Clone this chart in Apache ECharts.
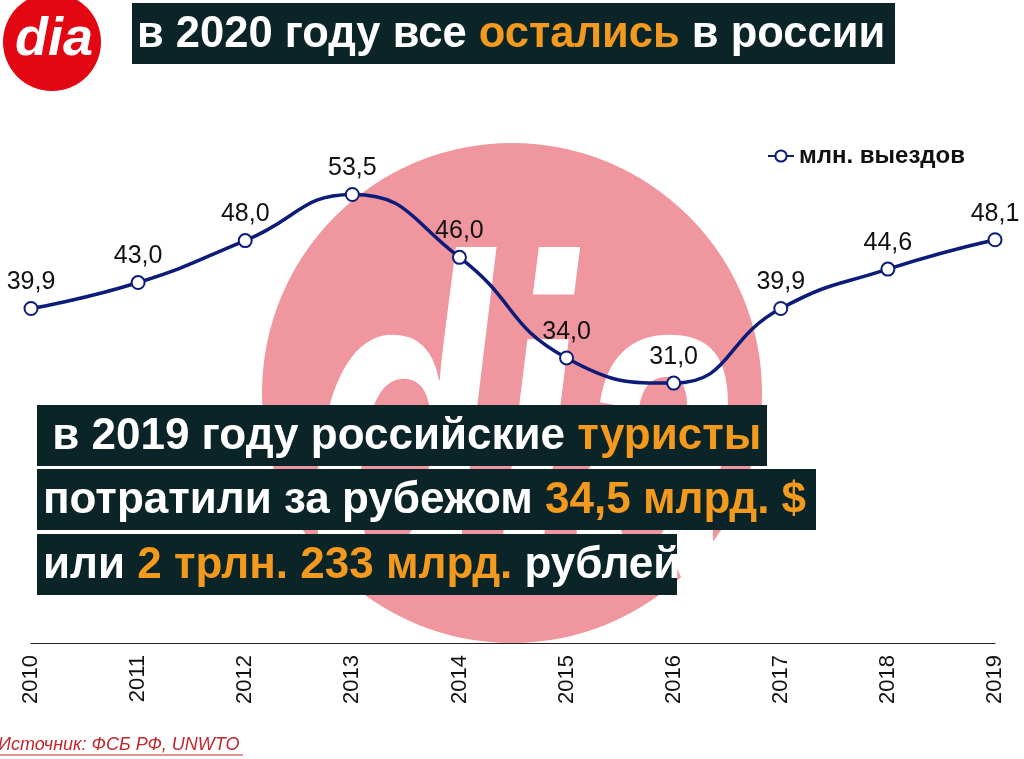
<!DOCTYPE html>
<html>
<head>
<meta charset="utf-8">
<script src="https://cdn.jsdelivr.net/npm/echarts@6/dist/echarts.min.js"></script>
<style>
  html, body { margin: 0; padding: 0; background: #fff; }
  #chart { width: 1024px; height: 759px; }
</style>
</head>
<body>
<div id="chart"></div>
<script>
// данные графика
const years = ["2010", "2011", "2012", "2013", "2014", "2015", "2016", "2017", "2018", "2019"];
const trips = [39.9, 43.0, 48.0, 53.5, 46.0, 34.0, 31.0, 39.9, 44.6, 48.1];
const seriesName = "млн. выездов";

const FONT = "'Liberation Sans', Arial, sans-serif";
const BOX = "#0b2427";
const ORANGE = "#f39a1e";
const NAVY = "#0c1c78";

const chart = echarts.init(document.getElementById("chart"));

// плашка с текстом (тёмный прямоугольник + rich text)
function textBox(x, y, w, h, parts, fontSize, tx) {
  const rich = {
    w: { fill: "#fff", fontSize: fontSize, fontWeight: "bold", fontFamily: FONT },
    o: { fill: ORANGE, fontSize: fontSize, fontWeight: "bold", fontFamily: FONT }
  };
  const text = parts.map((p) => `{${p[0]}|${p[1]}}`).join("");
  return [
    { type: "rect", z: 100, shape: { x: x, y: y, width: w, height: h }, style: { fill: BOX } },
    {
      type: "text", z: 101, x: tx, y: y + h / 2 + 1,
      style: {
        text: text, rich: rich, fontFamily: FONT, fontWeight: "bold",
        fontSize: fontSize, fill: "#fff", verticalAlign: "middle"
      }
    }
  ];
}

const graphics = [
  // водяной знак
  { type: "circle", z: 0, shape: { cx: 512, cy: 393, r: 250 }, style: { fill: "#f0969f" } },
  {
    type: "text", z: 1, x: 525, y: 458, scaleX: 0.64,
    style: {
      text: "dia", fontFamily: FONT, fontStyle: "italic", fontWeight: "bold",
      fontSize: 470, fill: "#fff", align: "center", verticalAlign: "middle"
    }
  },
  // логотип
  { type: "circle", z: 100, shape: { cx: 52, cy: 42, r: 49 }, style: { fill: "#e30613" } },
  {
    type: "text", z: 101, x: 54, y: 40,
    style: {
      text: "dia", fontFamily: FONT, fontStyle: "italic", fontWeight: "bold",
      fontSize: 54, fill: "#fff", align: "center", verticalAlign: "middle"
    }
  },
  ...textBox(132, 3, 763, 61, [["w", "в 2020 году все "], ["o", "остались"], ["w", " в россии"]], 43.5, 137),
  ...textBox(37, 405, 730, 61, [["w", " в 2019 году российские "], ["o", "туристы"]], 44, 40),
  ...textBox(37, 469, 779, 61, [["w", "потратили за рубежом "], ["o", "34,5 млрд. $"]], 44, 43),
  ...textBox(37, 534, 640, 61, [["w", "или "], ["o", "2 трлн. 233 млрд."], ["w", " рублей"]], 44, 43),
  // источник
  {
    type: "text", z: 101, x: -2, y: 745,
    style: {
      text: "Источник: ФСБ РФ, UNWTO", fontFamily: FONT, fontStyle: "italic",
      fontSize: 18, fill: "#c1272d", verticalAlign: "middle"
    }
  },
  { type: "line", z: 101, shape: { x1: 0, y1: 755, x2: 243, y2: 755 }, style: { stroke: "#c1272d", lineWidth: 1 } }
];

chart.setOption({
  animation: false,
  backgroundColor: "#fff",
  textStyle: { fontFamily: FONT },
  grid: { left: 31, right: 29, top: 140, bottom: 116 },
  legend: {
    left: 762, top: 139,
    itemWidth: 26, itemHeight: 14,
    itemGap: 8,
    textStyle: { fontFamily: FONT, fontWeight: "bold", fontSize: 24, color: "#111" },
    data: [seriesName]
  },
  xAxis: {
    type: "category",
    data: years,
    boundaryGap: false,
    axisLine: { show: true, lineStyle: { color: "#222", width: 1 } },
    axisTick: { show: false },
    axisLabel: { rotate: 90, fontSize: 22, color: "#111", margin: 12, fontFamily: FONT }
  },
  yAxis: {
    type: "value",
    min: 0, max: 60,
    show: false,
    splitLine: { show: false }
  },
  graphic: { elements: graphics },
  series: [{
    name: seriesName,
    type: "line",
    data: trips,
    smooth: 0.5,
    z: 10,
    symbol: "emptyCircle",
    symbolSize: 13,
    lineStyle: { color: NAVY, width: 3.5 },
    itemStyle: { color: NAVY, borderColor: NAVY, borderWidth: 3.5 },
    label: {
      show: true,
      position: "top",
      distance: 6,
      fontSize: 25,
      color: "#111",
      fontFamily: FONT,
      formatter: (p) => p.value.toFixed(1).replace(".", ",")
    }
  }]
});
</script>
</body>
</html>
